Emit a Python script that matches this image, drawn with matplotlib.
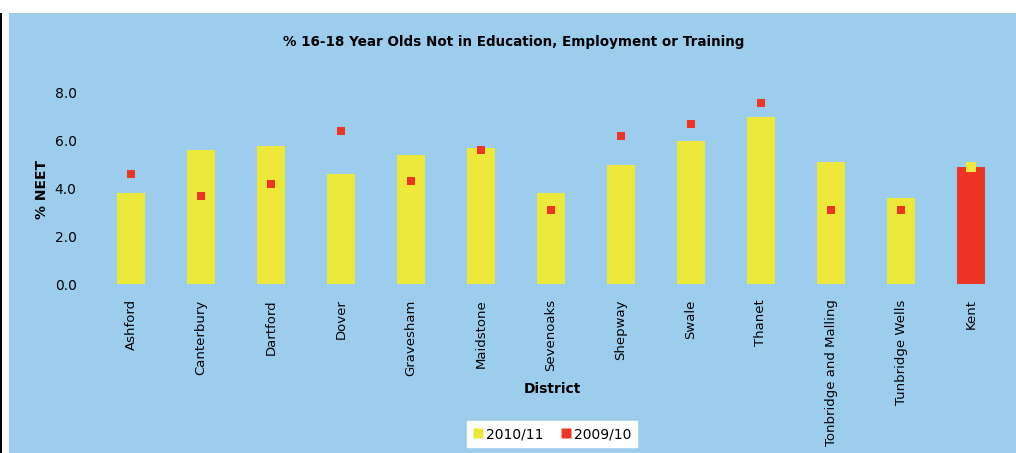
import numpy as np
import matplotlib.pyplot as plt
from matplotlib.lines import Line2D
from matplotlib.patches import Rectangle

districts = ["Ashford", "Canterbury", "Dartford", "Dover", "Gravesham", "Maidstone",
             "Sevenoaks", "Shepway", "Swale", "Thanet", "Tonbridge and Malling",
             "Tunbridge Wells", "Kent"]
neet_2010_11 = [3.8, 5.6, 5.8, 4.6, 5.4, 5.7, 3.8, 5.0, 6.0, 7.0, 5.1, 3.6, 4.9]
neet_2009_10 = [4.6, 3.7, 4.2, 6.4, 4.3, 5.6, 3.1, 6.2, 6.7, 7.6, 3.1, 3.1, 4.9]
yticks = [0.0, 2.0, 4.0, 6.0, 8.0]

BG = "#9dcded"
YELLOW = "#ece93a"
RED = "#ee3424"

fig = plt.figure(figsize=(10.16, 4.53), dpi=100)
fig.patch.set_facecolor("white")

# chart panel and frame line on the left
fig.add_artist(Rectangle((9 / 1016, 0), 1 - 9 / 1016, 1 - 13 / 453,
                         transform=fig.transFigure, facecolor=BG, edgecolor="none", zorder=0))
fig.add_artist(Rectangle((0, 0), 2 / 1016, 1 - 13 / 453,
                         transform=fig.transFigure, facecolor="black", edgecolor="none", zorder=0))

ax = fig.add_axes([96 / 1016, 1 - 284 / 453, 910 / 1016, 191 / 453])
ax.set_facecolor("none")

x = np.arange(len(districts))
bar_colors = [YELLOW] * (len(districts) - 1) + [RED]
pt_colors = [RED] * (len(districts) - 1) + [YELLOW]
pt_sizes = [34] * (len(districts) - 1) + [62]

ax.bar(x, neet_2010_11, width=0.4, color=bar_colors, zorder=2)
ax.scatter(x, neet_2009_10, marker="s", s=pt_sizes, c=pt_colors, linewidths=0,
           zorder=3, clip_on=False)

ax.set_xlim(-0.5, len(districts) - 0.5)
ax.set_ylim(0, 8)
ax.set_yticks(yticks)
ax.set_yticklabels([f"{v:.1f}" for v in yticks], fontsize=10)
ax.set_xticks(x)
ax.set_xticklabels(districts, rotation=90, fontsize=9.5, va="top")
ax.tick_params(axis="both", length=0)
ax.tick_params(axis="y", pad=14)
ax.tick_params(axis="x", pad=11)
for spine in ax.spines.values():
    spine.set_visible(False)

fig.text(514 / 1016, 1 - 42 / 453, "% 16-18 Year Olds Not in Education, Employment or Training",
         ha="center", va="center", fontsize=9.75, fontweight="bold")
fig.text(552 / 1016, 1 - 389 / 453, "District", ha="center", va="center",
         fontsize=10, fontweight="bold")
fig.text(42 / 1016, 1 - 189 / 453, "% NEET", ha="center", va="center", rotation=90,
         fontsize=10, fontweight="bold")

handles = [
    Line2D([0], [0], marker="s", color="none", markerfacecolor=YELLOW,
           markeredgecolor="none", markersize=7, label="2010/11"),
    Line2D([0], [0], marker="s", color="none", markerfacecolor=RED,
           markeredgecolor="none", markersize=7, label="2009/10"),
]
fig.legend(handles=handles, loc="center", bbox_to_anchor=(552 / 1016, 1 - 434 / 453),
           ncol=2, fontsize=10, frameon=True, fancybox=False, facecolor="white",
           edgecolor="white", framealpha=1, handlelength=0.8, handletextpad=0.2,
           columnspacing=1.2, borderpad=0.4)

fig.savefig("out.png", dpi=100, facecolor=fig.get_facecolor())
